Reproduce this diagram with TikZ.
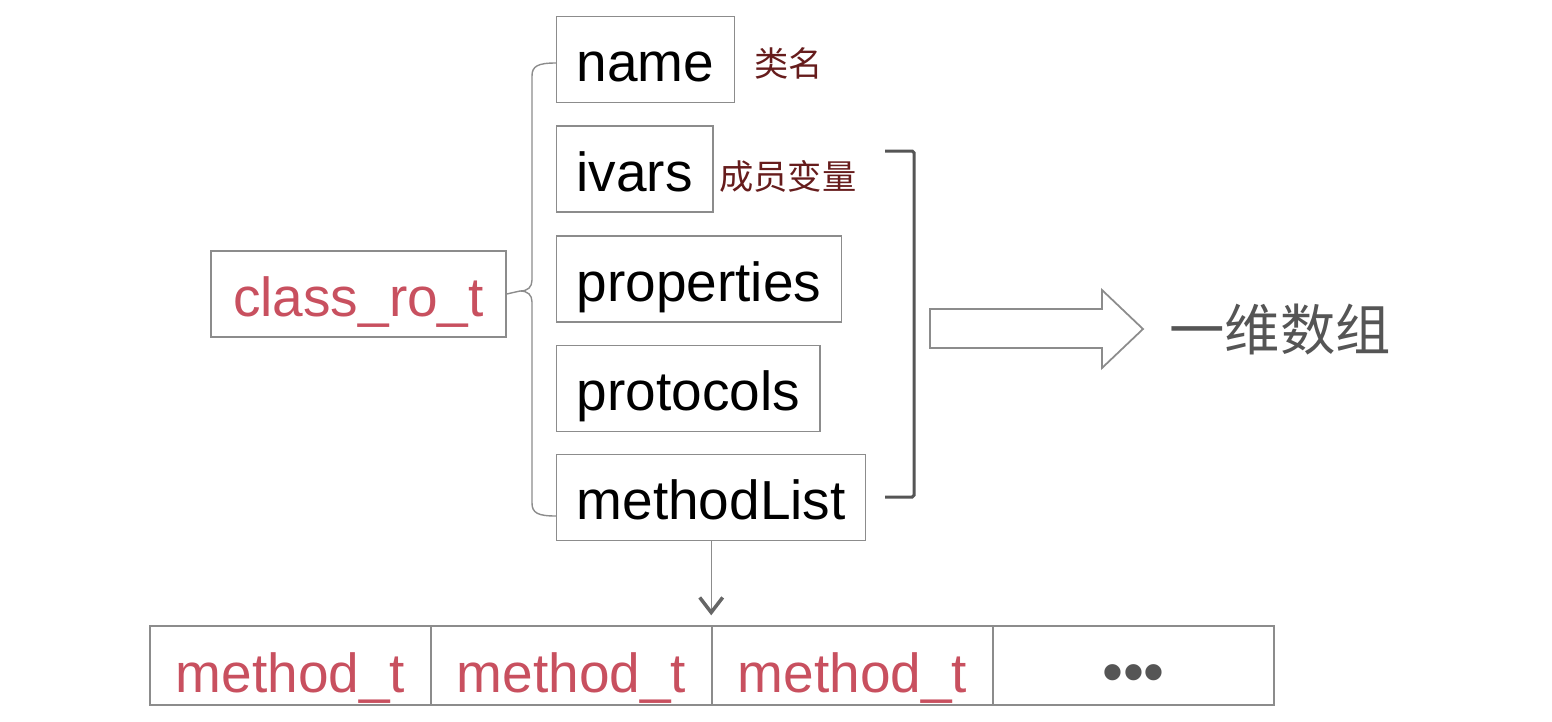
\documentclass[tikz,border=0pt]{standalone}
\usepackage{fontspec}
\setmainfont{Liberation Sans}
\newfontfamily\cjk{Noto Sans CJK SC}
\usetikzlibrary{arrows.meta}
\definecolor{boxgray}{HTML}{8C8C8C}
\definecolor{codered}{HTML}{C8505F}
\definecolor{notered}{HTML}{661C1C}
\definecolor{inkgray}{HTML}{555555}
\begin{document}
\begin{tikzpicture}[x=0.02cm, y=-0.02cm,
  field/.style={draw=boxgray, line width=0.8pt, anchor=west, minimum height=1.72cm, inner xsep=0.4cm, text height=0.92cm, text depth=0.04cm, font=\fontsize{31.3}{36}\selectfont},
  cell/.style={draw=boxgray, line width=0.8pt, minimum width=5.62cm, minimum height=1.58cm, inner ysep=0.15cm, text height=1.18cm, text depth=0.1cm, text=codered, font=\fontsize{31.3}{36}\selectfont},
  note/.style={anchor=west, inner sep=0pt, text=notered, font=\cjk\fontsize{19.5}{22}\selectfont},
  link/.style={draw=boxgray, line width=0.8pt}]
\useasboundingbox (0,0) rectangle (1552,721);
% class_ro_t and its fields
\node[field, anchor=center, minimum width=5.9cm, text=codered] (cls) at (358.5,294) {class\_ro\_t};
\node[field] (name) at (556,59.5) {name};
\node[field] (ivars) at (556,169) {ivars};
\node[field] (props) at (556,279) {properties};
\node[field] (protos) at (556,388.5) {protocols};
\node[field] (mlist) at (556,497.5) {methodList};
\node[note] (namenote) at (754,63) {类名};
\node[note] (ivarnote) at (719,176) {成员变量};
% brace
\coordinate (tip) at (520,291);
\coordinate (btop) at (556,63);
\coordinate (bbot) at (556,516);
\draw[link] (cls.east) -- (tip);
\draw[link] (btop) .. controls (538,63) and (532,66) .. (532,76) -- (532,280)
  .. controls (532,287) and (528,291) .. (tip)
  .. controls (528,291) and (532,295) .. (532,302) -- (532,503)
  .. controls (532,513) and (538,516) .. (bbot);
% bracket and hollow arrow
\draw[draw=inkgray, line width=1.7pt, rounded corners=1pt] (885,151) -- (914,151) -- (914,497) -- (885,497);
\draw[link, line width=1pt] (930,309) -- (1102,309) -- (1102,290) -- (1143,329) -- (1102,368) -- (1102,348) -- (930,348) -- cycle;
\node[anchor=west, inner sep=0pt, text=inkgray, font=\cjk\fontsize{31.5}{36}\selectfont] (arr) at (1169,330) {一维数组};
% method_t list
\node[cell] (c1) at (290.5,665.5) {method\_t};
\node[cell] (c2) at (571.5,665.5) {method\_t};
\node[cell] (c3) at (852.5,665.5) {method\_t};
\node[cell, text=inkgray, font=\fontsize{34}{40}\selectfont] (c4) at (1133.5,665.5) {•••};
\draw[link, -{Straight Barb[length=0.3cm, width=0.46cm, line width=2pt, color=inkgray!90]}, shorten >=0.2cm] (mlist.south) -- (mlist.south |- c2.north);
\end{tikzpicture}
\end{document}
